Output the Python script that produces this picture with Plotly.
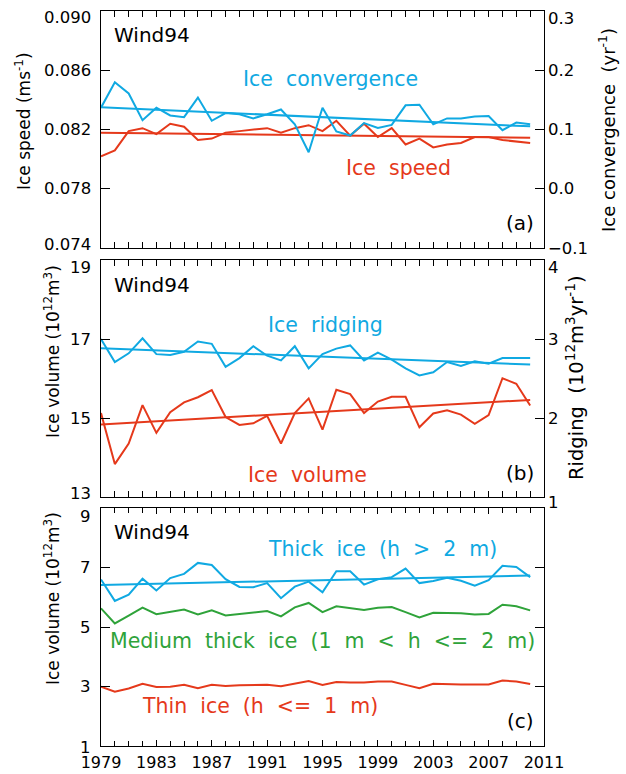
import numpy as np
import plotly.graph_objects as go

# ---------------------------------------------------------------- data
years = list(range(1979, 2011))

ice_speed = [0.0802, 0.0806, 0.0819, 0.0821, 0.0817, 0.0824, 0.0822, 0.0813,
             0.0814, 0.0818, 0.0819, 0.0820, 0.0821, 0.0818, 0.0821, 0.0823,
             0.0819, 0.0826, 0.0816, 0.0824, 0.0815, 0.0821, 0.0810, 0.0814,
             0.0808, 0.0810, 0.0811, 0.0815, 0.0815, 0.0813, 0.0812, 0.0811]

ice_convergence = [0.137, 0.180, 0.161, 0.116, 0.137, 0.124, 0.121, 0.154,
                   0.115, 0.128, 0.126, 0.119, 0.126, 0.134, 0.109, 0.062,
                   0.137, 0.097, 0.090, 0.111, 0.103, 0.108, 0.141, 0.142,
                   0.109, 0.119, 0.119, 0.122, 0.123, 0.099, 0.112, 0.109]

ice_volume = [15.13, 13.84, 14.36, 15.33, 14.63, 15.15, 15.40, 15.53,
              15.71, 15.03, 14.83, 14.87, 15.06, 14.36, 15.13, 15.50,
              14.71, 15.72, 15.61, 15.13, 15.42, 15.54, 15.54, 14.77,
              15.12, 15.20, 15.09, 14.86, 15.08, 16.01, 15.87, 15.32]

ice_ridging = [3.00, 2.71, 2.82, 3.01, 2.81, 2.80, 2.84, 2.97,
               2.94, 2.65, 2.76, 2.91, 2.79, 2.73, 2.91, 2.63,
               2.81, 2.88, 2.92, 2.73, 2.83, 2.74, 2.63, 2.54,
               2.58, 2.71, 2.66, 2.72, 2.69, 2.76, 2.76, 2.76]

thick_ice = [6.60, 5.88, 6.09, 6.63, 6.23, 6.65, 6.79, 7.16,
             7.09, 6.61, 6.35, 6.34, 6.48, 5.97, 6.36, 6.53,
             6.17, 6.88, 6.88, 6.43, 6.61, 6.68, 6.97, 6.48,
             6.55, 6.66, 6.56, 6.39, 6.58, 7.06, 7.02, 6.68]

medium_ice = [5.63, 5.12, 5.38, 5.65, 5.43, 5.50, 5.59, 5.42,
              5.56, 5.39, 5.44, 5.48, 5.54, 5.36, 5.66, 5.81,
              5.50, 5.70, 5.64, 5.57, 5.65, 5.67, 5.50, 5.32,
              5.48, 5.47, 5.46, 5.42, 5.44, 5.75, 5.70, 5.56]

thin_ice = [2.99, 2.82, 2.93, 3.09, 2.98, 2.99, 3.05, 2.94,
            3.05, 3.01, 3.04, 3.04, 3.05, 3.00, 3.09, 3.18,
            3.05, 3.15, 3.13, 3.13, 3.16, 3.16, 3.05, 2.94,
            3.09, 3.07, 3.06, 3.06, 3.06, 3.20, 3.16, 3.08]

year_ticks = list(range(1979, 2012, 4))
speed_ticks = [0.074, 0.078, 0.082, 0.086, 0.090]
speed_labels = ["0.074", "0.078", "0.082", "0.086", "0.090"]
conv_ticks = [-0.1, 0.0, 0.1, 0.2, 0.3]
conv_labels = ["\u22120.1", "0.0", "0.1", "0.2", "0.3"]
volume_ticks = [13, 15, 17, 19]
volume_labels = ["13", "15", "17", "19"]
ridging_ticks = [1, 2, 3, 4]
ridging_labels = ["1", "2", "3", "4"]
class_ticks = [1, 3, 5, 7, 9]
class_labels = ["1", "3", "5", "7", "9"]

# ---------------------------------------------------------------- style
CYAN = "#10A9E2"
RED = "#E5391B"
GREEN = "#2FA33A"
FONT = "DejaVu Sans"
GAP = " \u00a0"  # wide word gap used in the panel captions

W, H = 626, 774
ML, MR, MT, MB = 101, 82, 11, 28
PW, PH = W - ML - MR, H - MT - MB

# panel extents in pixels (top, bottom)
PANELS = {"a": (10.7, 248.3), "b": (260.0, 497.3), "c": (508.3, 745.7)}


def xp(px):
    return (px - ML) / PW


def yp(py):
    return (H - MB - py) / PH


def dom(key):
    top, bot = PANELS[key]
    return [max(0.0, yp(bot)), min(1.0, yp(top))]


def trend(values):
    coef = np.polyfit(years, values, 1)
    xs = [years[0], years[-1]]
    return xs, list(np.polyval(coef, xs))


fig = go.Figure()


def add_line(values, color, xaxis, yaxis, with_trend):
    fig.add_trace(go.Scatter(x=years, y=values, mode="lines",
                             line=dict(color=color, width=2),
                             xaxis=xaxis, yaxis=yaxis, hoverinfo="skip"))
    if with_trend:
        tx, ty = trend(values)
        fig.add_trace(go.Scatter(x=tx, y=ty, mode="lines",
                                 line=dict(color=color, width=2),
                                 xaxis=xaxis, yaxis=yaxis, hoverinfo="skip"))


add_line(ice_speed, RED, "x", "y", True)
add_line(ice_convergence, CYAN, "x", "y2", True)
add_line(ice_volume, RED, "x2", "y3", True)
add_line(ice_ridging, CYAN, "x2", "y4", True)
add_line(thick_ice, CYAN, "x3", "y5", True)
add_line(medium_ice, GREEN, "x3", "y5", False)
add_line(thin_ice, RED, "x3", "y5", False)

# ---------------------------------------------------------------- axes
xcommon = dict(range=[1979, 2011], tickvals=year_ticks, ticks="inside",
               ticklen=6, tickcolor="black", tickwidth=1,
               minor=dict(dtick=1, tick0=1979, ticks="inside", ticklen=5,
                          tickcolor="black", tickwidth=1),
               showline=True, linecolor="black", linewidth=1,
               mirror="allticks", showgrid=False, zeroline=False,
               domain=[0, 1], automargin=False)
ycommon = dict(ticks="inside", ticklen=9, tickcolor="black", tickwidth=1,
               showline=True, linecolor="black", linewidth=1,
               showgrid=False, zeroline=False, showticklabels=False,
               automargin=False)

fig.update_layout(
    template="none",
    xaxis=dict(xcommon, anchor="y", showticklabels=False),
    xaxis2=dict(xcommon, anchor="y3", showticklabels=False, matches="x"),
    xaxis3=dict(xcommon, anchor="y5", showticklabels=True, matches="x",
                tickfont=dict(family=FONT, size=16, color="black"),
                ticklabelstandoff=2),
    yaxis=dict(ycommon, domain=dom("a"), anchor="x", range=[0.074, 0.090],
               tickvals=speed_ticks, mirror=True),
    yaxis2=dict(ycommon, overlaying="y", side="right", anchor="x",
                range=[-0.1, 0.3], tickvals=conv_ticks),
    yaxis3=dict(ycommon, domain=dom("b"), anchor="x2", range=[13, 19],
                tickvals=volume_ticks, mirror=True),
    yaxis4=dict(ycommon, overlaying="y3", side="right", anchor="x2",
                range=[1, 4], tickvals=ridging_ticks),
    yaxis5=dict(ycommon, domain=dom("c"), anchor="x3", range=[1, 9],
                tickvals=class_ticks, mirror="allticks"),
)

# ---------------------------------------------------------------- tick labels
ann = []
TICKFONT = dict(family=FONT, size=16.5, color="black")


def tick_labels(vals, texts, yref, side, nudges):
    for v, t, dy in zip(vals, texts, nudges):
        ann.append(dict(
            x=0 if side == "left" else 1, xref="paper",
            y=v, yref=yref, text=t, showarrow=False, font=TICKFONT,
            xanchor="right" if side == "left" else "left",
            xshift=-8 if side == "left" else 2,
            yanchor="middle", yshift=dy))


tick_labels(speed_ticks, speed_labels, "y", "left", [4, 0, 0, 0, -6])
tick_labels(conv_ticks, conv_labels, "y2", "right", [0, 0, 0, 0, -7])
tick_labels(volume_ticks, volume_labels, "y3", "left", [4, 0, 0, -7])
tick_labels(ridging_ticks, ridging_labels, "y4", "right", [-5, 0, 0, -7])
tick_labels(class_ticks, class_labels, "y5", "left", [-2, 0, 0, 0, -8])

# ---------------------------------------------------------------- axis titles


def axis_title(text, px, py, size):
    ann.append(dict(x=xp(px), y=yp(py), xref="paper", yref="paper",
                    text=text, textangle=-90, showarrow=False,
                    xanchor="center", yanchor="middle",
                    font=dict(family=FONT, size=size, color="black")))


axis_title("Ice speed (ms<sup>-1</sup>)", 23, 121, 17)
axis_title("Ice volume (10<sup>12</sup>m<sup>3</sup>)", 52, 352, 17)
axis_title("Ice volume (10<sup>12</sup>m<sup>3</sup>)", 52, 599, 17)
axis_title("Ice convergence" + GAP + "(yr<sup>-1</sup>)", 607, 130, 18)
axis_title("Ridging" + GAP + "(10<sup>12</sup>m<sup>3</sup>yr<sup>-1</sup>)",
           575, 378, 19.5)

# ---------------------------------------------------------------- panel text


def label(words, px, py, color, size=20.5):
    ann.append(dict(x=xp(px), y=yp(py), xref="paper", yref="paper",
                    text=GAP.join(words), showarrow=False, xanchor="center",
                    yanchor="middle",
                    font=dict(family=FONT, size=size, color=color)))


label(["Wind94"], 152, 35, "black", 20)
label(["Wind94"], 152, 285, "black", 20)
label(["Wind94"], 152, 532, "black", 20)
label(["Ice", "convergence"], 330, 79, CYAN)
label(["Ice", "speed"], 398, 168, RED)
label(["(a)"], 520, 223, "black", 20)
label(["Ice", "ridging"], 325, 325, CYAN)
label(["Ice", "volume"], 307, 475, RED)
label(["(b)"], 520, 473, "black", 20)
label(["Thick", "ice", "(h", "&gt;", "2", "m)"], 382, 549, CYAN)
label(["Medium", "thick", "ice", "(1", "m", "&lt;", "h", "&lt;=", "2", "m)"],
      322, 641, GREEN)
label(["Thin", "ice", "(h", "&lt;=", "1", "m)"], 260, 706, RED)
label(["(c)"], 520, 721, "black", 20)

fig.update_layout(
    annotations=ann,
    width=W, height=H,
    margin=dict(l=ML, r=MR, t=MT, b=MB, pad=0, autoexpand=False),
    paper_bgcolor="white", plot_bgcolor="white",
    showlegend=False,
    font=dict(family=FONT, color="black"),
)

fig.write_html("out.html")
